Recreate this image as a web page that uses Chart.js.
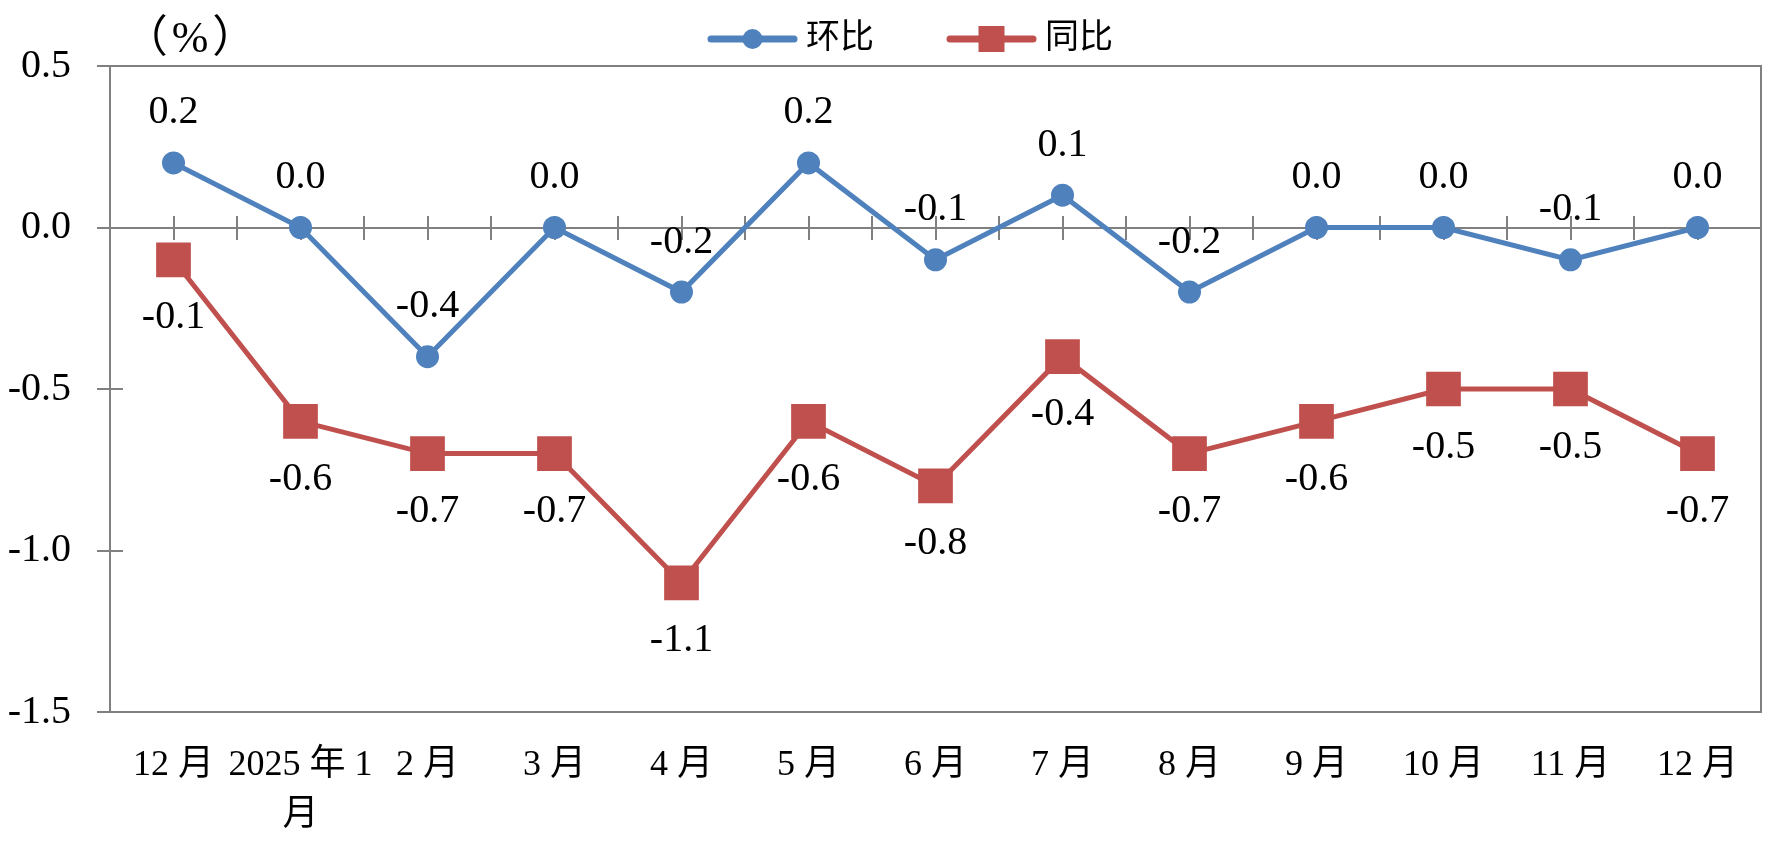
<!DOCTYPE html>
<html>
<head>
<meta charset="utf-8">
<script src="https://cdn.jsdelivr.net/npm/chart.js@4.4.1/dist/chart.umd.min.js"></script>
<style>
  html, body { margin: 0; padding: 0; background: #fff; }
  #wrap { width: 1787px; height: 846px; }
</style>
</head>
<body>
<div id="wrap"><canvas id="price-chart" width="1787" height="846"></canvas></div>
<script>
// ====== Data
const months = ["12 月", ["2025 年 1", "月"], "2 月", "3 月", "4 月", "5 月", "6 月",
  "7 月", "8 月", "9 月", "10 月", "11 月", "12 月"];
const momValues = [0.2, 0.0, -0.4, 0.0, -0.2, 0.2, -0.1, 0.1, -0.2, 0.0, 0.0, -0.1, 0.0];
const yoyValues = [-0.1, -0.6, -0.7, -0.7, -1.1, -0.6, -0.8, -0.4, -0.7, -0.6, -0.5, -0.5, -0.7];
const yTicks = [0.5, 0.0, -0.5, -1.0, -1.5];
const seriesNames = ["环比", "同比"];
const unitLabel = "（%）";

const blue = "#4F81BD";
const red = "#C0504D";
const axisColor = "#808080";
const serif = '"Liberation Serif", "Noto Sans CJK SC", serif';

// ====== Frame: box, zero line, tick marks
const framePlugin = {
  id: "frame",
  beforeDatasetsDraw(chart) {
    const { ctx, chartArea: a, scales: { x, y } } = chart;
    const y0 = Math.round(y.getPixelForValue(0));
    const half = (x.getPixelForValue(1) - x.getPixelForValue(0)) / 2;
    ctx.save();
    ctx.strokeStyle = axisColor;
    ctx.lineWidth = 2;
    ctx.beginPath();
    ctx.rect(a.left, a.top, a.right - a.left, a.bottom - a.top);
    yTicks.forEach((v) => {
      const py = Math.round(y.getPixelForValue(v));
      ctx.moveTo(a.left - 13, py);
      ctx.lineTo(a.left + 13, py);
    });
    ctx.moveTo(a.left - 13, y0);
    ctx.lineTo(a.right, y0);
    months.forEach((_, i) => {
      const c = x.getPixelForValue(i);
      [c - half, c, c + half].forEach((px) => {
        ctx.moveTo(Math.round(px), y0 - 12);
        ctx.lineTo(Math.round(px), y0 + 12);
      });
    });
    ctx.stroke();
    ctx.restore();
  },
};

// ====== Value labels
const valueLabelPlugin = {
  id: "valueLabels",
  afterDatasetsDraw(chart) {
    const { ctx } = chart;
    ctx.save();
    ctx.font = `40px ${serif}`;
    ctx.fillStyle = "#000";
    ctx.textAlign = "center";
    ctx.textBaseline = "middle";
    chart.data.datasets.forEach((ds, di) => {
      const offset = di === 0 ? -50 : 58;
      chart.getDatasetMeta(di).data.forEach((pt, i) => {
        ctx.fillText(ds.data[i].toFixed(1), pt.x, pt.y + offset);
      });
    });
    ctx.restore();
  },
};

// ====== Legend + unit
const legendPlugin = {
  id: "lineLegend",
  afterDraw(chart) {
    const { ctx } = chart;
    const ly = 39;
    const items = [
      { x: 711, color: blue, style: "circle", text: seriesNames[0] },
      { x: 950, color: red, style: "rect", text: seriesNames[1] },
    ];
    ctx.save();
    items.forEach((it) => {
      ctx.strokeStyle = it.color;
      ctx.fillStyle = it.color;
      ctx.lineWidth = 7;
      ctx.lineCap = "round";
      ctx.beginPath();
      ctx.moveTo(it.x, ly);
      ctx.lineTo(it.x + 83, ly);
      ctx.stroke();
      const cx = it.x + 41.5;
      if (it.style === "circle") {
        ctx.beginPath();
        ctx.arc(cx, ly, 10, 0, Math.PI * 2);
        ctx.fill();
      } else {
        ctx.fillRect(cx - 13, ly - 13, 26, 26);
      }
      ctx.fillStyle = "#000";
      ctx.font = `34px ${serif}`;
      ctx.textAlign = "left";
      ctx.textBaseline = "middle";
      ctx.fillText(it.text, it.x + 95, ly);
    });
    // unit: full-width parens spread a bit like the original
    ctx.font = `44px ${serif}`;
    ctx.textAlign = "center";
    ctx.textBaseline = "middle";
    ctx.letterSpacing = "4px";
    ctx.fillText(unitLabel, 192, 40);
    ctx.restore();
  },
};

document.addEventListener("DOMContentLoaded", () => {
  const ctx = document.getElementById("price-chart").getContext("2d");
  Chart.defaults.font.family = serif;
  Chart.defaults.color = "#000";

  new Chart(ctx, {
    type: "line",
    data: {
      labels: months,
      datasets: [
        {
          label: seriesNames[0],
          data: momValues,
          borderColor: blue,
          backgroundColor: blue,
          borderWidth: 5,
          pointStyle: "circle",
          pointRadius: 9,
          tension: 0,
        },
        {
          label: seriesNames[1],
          data: yoyValues,
          borderColor: red,
          backgroundColor: red,
          borderWidth: 5,
          pointStyle: "rect",
          pointRadius: 21,
          tension: 0,
        },
      ],
    },
    options: {
      responsive: false,
      animation: false,
      layout: { padding: { top: 66, right: 11, left: 0, bottom: 0 } },
      plugins: {
        legend: { display: false },
        tooltip: { enabled: false },
      },
      scales: {
        x: {
          offset: true,
          grid: { display: false },
          border: { display: false },
          ticks: {
            autoSkip: false,
            maxRotation: 0,
            padding: 20,
            font: { size: 36, lineHeight: 1.4 },
          },
          afterFit: (s) => { s.height = 134; },
        },
        y: {
          min: -1.5,
          max: 0.5,
          grid: { display: false },
          border: { display: false },
          afterBuildTicks: (s) => { s.ticks = yTicks.map((v) => ({ value: v })); },
          ticks: {
            padding: 31,
            font: { size: 40 },
            callback: (v) => Number(v).toFixed(1),
          },
          afterFit: (s) => { s.width = 110; },
        },
      },
    },
    plugins: [framePlugin, valueLabelPlugin, legendPlugin],
  });
});
</script>
</body>
</html>
